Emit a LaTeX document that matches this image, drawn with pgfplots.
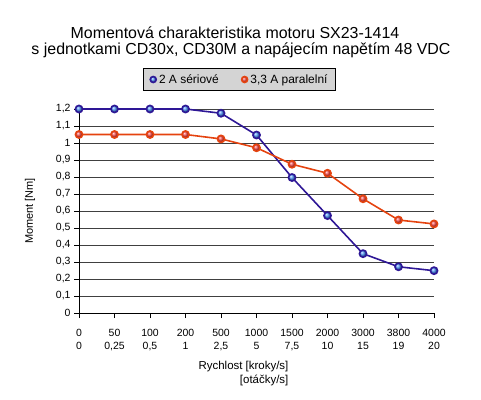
\documentclass[border=0pt]{standalone}
\usepackage{fontspec}
\setmainfont{Liberation Sans}
\usepackage{pgfplots}
\pgfplotsset{compat=1.18}
\definecolor{navyline}{HTML}{2E1796}
\definecolor{blueball}{HTML}{4A90F5}
\definecolor{redline}{HTML}{E5430F}
\definecolor{redball}{HTML}{F54545}
\definecolor{legfill}{HTML}{D4D4D4}
\begin{document}
\begin{tikzpicture}[x=1bp,y=1bp]
\useasboundingbox (0,0) rectangle (481,399);
\node[font=\fontsize{16}{17}\selectfont] at (235,366) {Momentová charakteristika motoru SX23-1414};
\node[font=\fontsize{16}{17}\selectfont] at (241,349) {s jednotkami CD30x, CD30M a napájecím napětím 48 VDC};
\begin{axis}[
  at={(79bp,86bp)}, anchor=south west,
  scale only axis, width=355bp, height=204bp,
  xmin=0, xmax=10, ymin=0, ymax=1.2,
  axis x line=bottom, axis y line=left,
  axis line style={-, black, line width=0.8pt},
  xtick={0,...,10},
  xticklabels={{0\\0},{50\\0,25},{100\\0,5},{200\\1},{500\\2,5},{1000\\5},{1500\\7,5},{2000\\10},{3000\\15},{3800\\19},{4000\\20}},
  xticklabel style={align=center, font=\fontsize{10.5}{13}\selectfont, yshift=-8bp},
  ytick={0,0.1,...,1.25},
  yticklabel style={font=\fontsize{10.5}{12}\selectfont},
  /pgf/number format/use comma,
  /pgf/number format/assume math mode=true,
  tick align=outside, major tick length=5bp,
  tick style={black, line width=0.8pt},
  ymajorgrids, major grid style={black!75, line width=0.8pt},
  xlabel={Rychlost [kroky/s]\\\hspace*{0pt}[otáčky/s]},
  xlabel style={align=right, font=\fontsize{11.5}{14}\selectfont, xshift=-13bp, yshift=-3bp},
  ylabel={Moment [Nm]},
  ylabel style={font=\fontsize{11}{12}\selectfont, yshift=14bp},
  clip=false,
  legend columns=2,
  legend style={at={(0.452,1.088)}, anchor=south, fill=legfill, draw=black, line width=0.8pt,
    font=\fontsize{12}{14}\selectfont, inner xsep=6bp, inner ysep=4bp,
    /tikz/every even column/.append style={column sep=20bp}},
  legend image code/.code={\draw[#1,only marks, mark size=3bp] plot coordinates {(0.2cm,0cm)};},
]
\addplot[navyline, line width=1.6pt, mark=ball, mark size=3.6bp, mark options={ball color=blueball, draw=none}]
  coordinates {(0,1.2) (1,1.2) (2,1.2) (3,1.2) (4,1.175) (5,1.047) (6,0.797) (7,0.573) (8,0.349) (9,0.272) (10,0.249)};
\addlegendentry{2 A sériové}
\addplot[redline, line width=1.6pt, mark=ball, mark size=3.6bp, mark options={ball color=redball, draw=none}]
  coordinates {(0,1.05) (1,1.05) (2,1.05) (3,1.05) (4,1.024) (5,0.972) (6,0.875) (7,0.822) (8,0.672) (9,0.547) (10,0.524)};
\addlegendentry{3,3 A paralelní}
\end{axis}
\end{tikzpicture}
\end{document}
